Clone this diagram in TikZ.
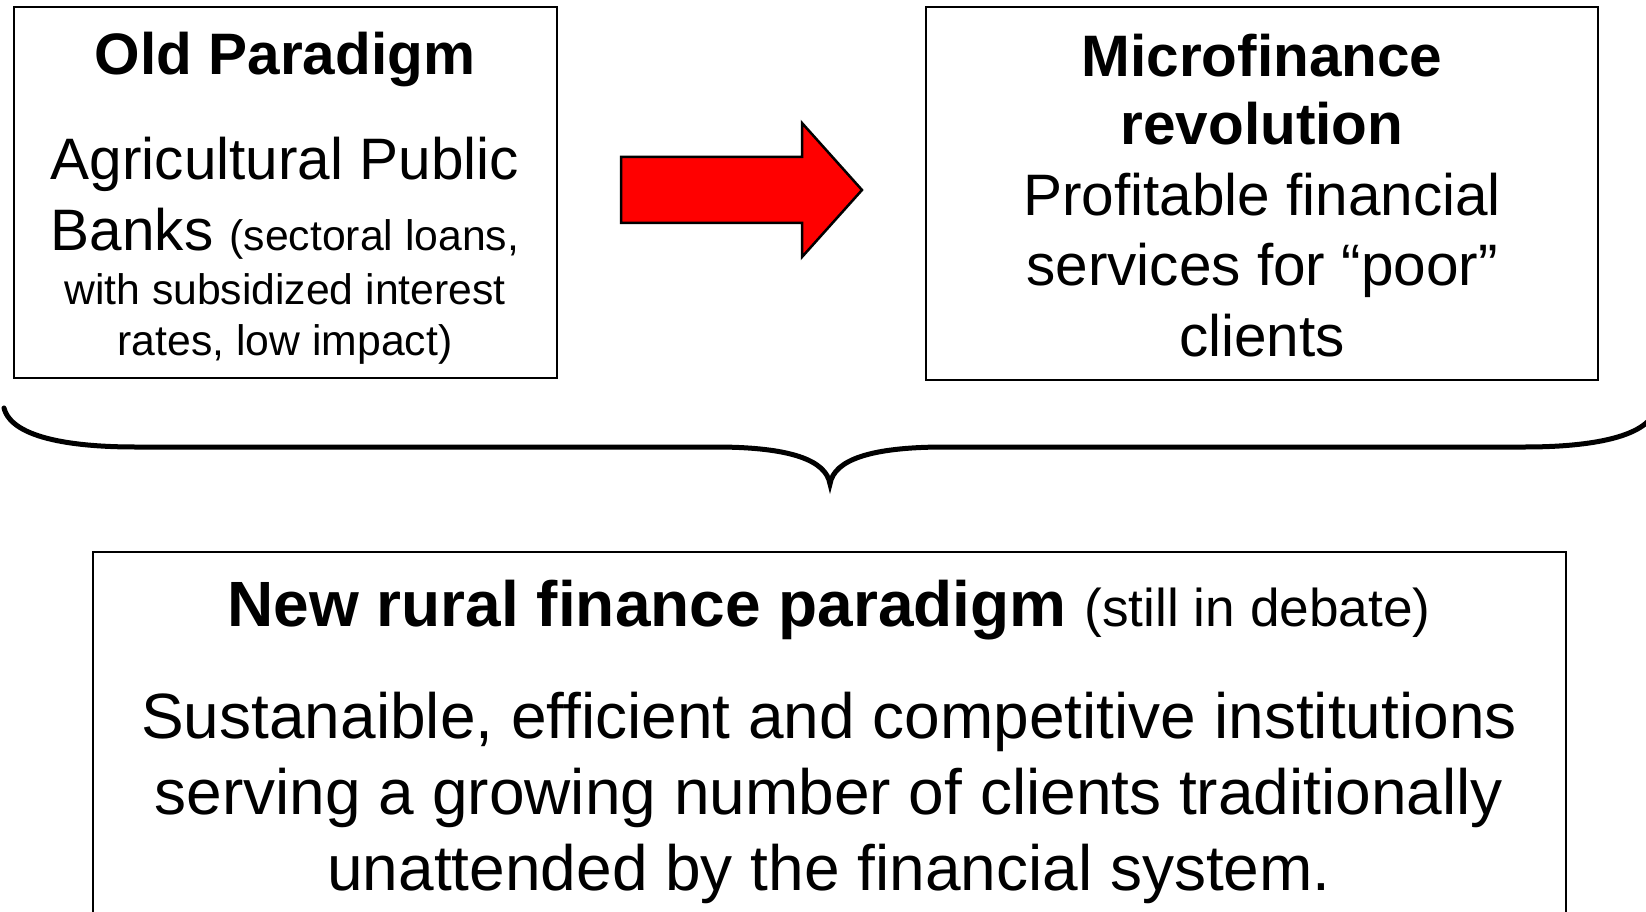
\documentclass[tikz,border=0pt]{standalone}
\usepackage{fontspec}
\setmainfont{Liberation Sans}
\usepackage{tikz}

\tikzset{
    frame/.style={draw=black, line width=2pt},
    bigtxt/.style={anchor=base, font=\fontsize{58.5}{70}\selectfont},
    hugetxt/.style={anchor=base, font=\fontsize{64}{76}\selectfont},
    smalltxt/.style={anchor=base, font=\fontsize{42.7}{53}\selectfont}
}

\begin{document}
\begin{tikzpicture}[x=1pt, y=1pt]
        \useasboundingbox (0,0) rectangle (1646,-912);
        \tikzstyle{every node}+=[inner sep=0pt]
        % old paradigm box
        \draw [frame] (13.5,-7.5) rectangle (557,-378);
        \node [bigtxt] (oldhead) at (285,-75) {\bfseries Old Paradigm};
        \node [bigtxt] (oldl1) at (285,-180) {Agricultural Public};
        \node [bigtxt] (oldl2) at (285,-250) {Banks {\fontsize{42.7}{53}\selectfont (sectoral loans,}};
        \node [smalltxt] (oldl3) at (285,-304) {with subsidized interest};
        \node [smalltxt] (oldl4) at (285,-355) {rates, low impact)};
        % microfinance box
        \draw [frame] (926,-7.5) rectangle (1598,-380);
        \node [bigtxt] (mfhead1) at (1262,-77) {\bfseries Microfinance};
        \node [bigtxt] (mfhead2) at (1262,-145) {\bfseries revolution};
        \node [bigtxt] (mfl1) at (1262,-215) {Profitable financial};
        \node [bigtxt] (mfl2) at (1262,-285) {services for “poor”};
        \node [bigtxt] (mfl3) at (1262,-356) {clients};
        % red block arrow
        \draw [black, line width=2.5pt, fill=red, line join=miter]
            (621,-157) -- (802,-157) -- (802,-123) -- (862,-190)
            -- (802,-257) -- (802,-223) -- (621,-223) -- cycle;
        % brace under both boxes
        \draw [black, line width=5pt, line cap=round]
            (4,-408) .. controls (12,-440) and (80,-447) .. (135,-447)
            -- (715,-447) .. controls (790,-447) and (826,-460) .. (830,-484)
            .. controls (834,-460) and (870,-447) .. (945,-447)
            -- (1525,-447) .. controls (1580,-447) and (1648,-440) .. (1656,-408);
        % new paradigm box
        \draw [frame] (93,-552) rectangle (1566,-930);
        \node [hugetxt] (newhead) at (829,-626) {\textbf{New rural finance paradigm} {\fontsize{53.2}{64}\selectfont (still in debate)}};
        \node [hugetxt] (newl1) at (829,-738) {Sustanaible, efficient and competitive institutions};
        \node [hugetxt] (newl2) at (829,-814.5) {serving a growing number of clients traditionally};
        \node [hugetxt] (newl3) at (829,-890) {unattended by the financial system.};
    \end{tikzpicture}
\end{document}
